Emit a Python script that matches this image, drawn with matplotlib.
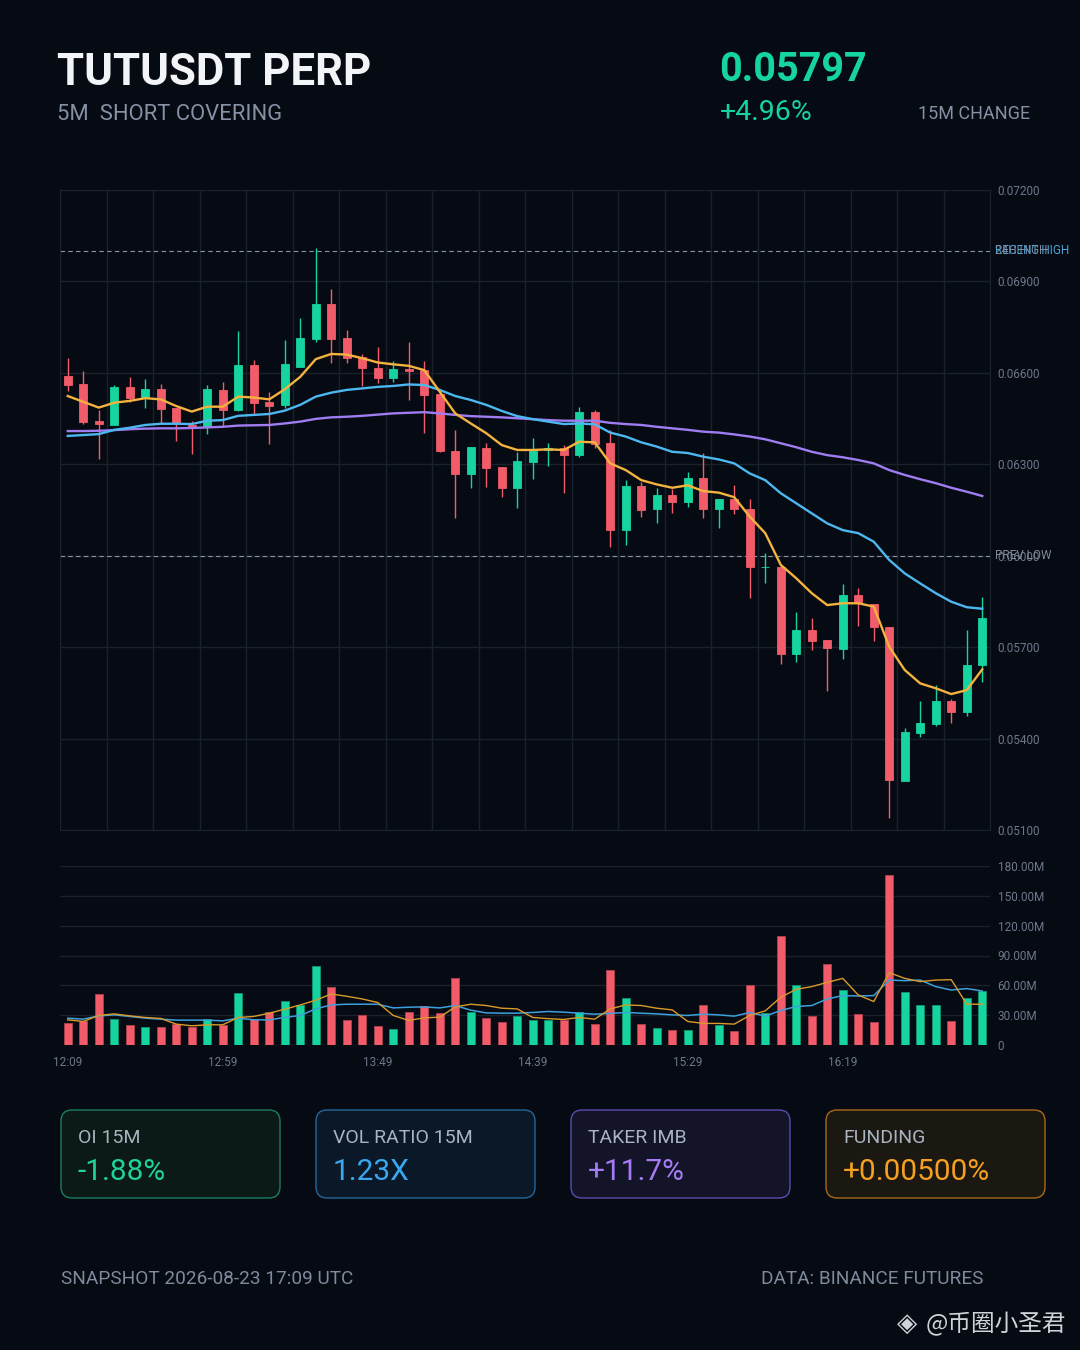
import numpy as np
import matplotlib.pyplot as plt
from matplotlib.patches import FancyBboxPatch

plt.rcParams['font.family'] = ['Roboto', 'Noto Sans CJK SC', 'DejaVu Sans']

# --- DATA (5m candles, 12:09 -> 17:04) ---
opens = [0.06590, 0.06563, 0.06441, 0.06430, 0.06553, 0.06521, 0.06547, 0.06484, 0.06429, 0.06423,
         0.06544, 0.06477, 0.06627, 0.06503, 0.06494, 0.06620, 0.06711, 0.06825, 0.06713, 0.06651,
         0.06617, 0.06584, 0.06614, 0.06608, 0.06531, 0.06343, 0.06268, 0.06353, 0.06290, 0.06221,
         0.06307, 0.06347, 0.06352, 0.06331, 0.06472, 0.06369, 0.06084, 0.06229, 0.06152, 0.06199,
         0.06177, 0.06254, 0.06154, 0.06186, 0.06152, 0.05962, 0.05964, 0.05679, 0.05755, 0.05722,
         0.05695, 0.05871, 0.05842, 0.05766, 0.05262, 0.05419, 0.05448, 0.05524, 0.05488, 0.05641]
highs = [0.06649, 0.06607, 0.06478, 0.06560, 0.06587, 0.06580, 0.06563, 0.06486, 0.06441, 0.06559,
         0.06570, 0.06736, 0.06642, 0.06538, 0.06709, 0.06780, 0.07010, 0.06874, 0.06741, 0.06662,
         0.06686, 0.06640, 0.06701, 0.06638, 0.06533, 0.06413, 0.06358, 0.06370, 0.06292, 0.06341,
         0.06386, 0.06369, 0.06362, 0.06487, 0.06478, 0.06413, 0.06248, 0.06242, 0.06221, 0.06218,
         0.06275, 0.06336, 0.06186, 0.06231, 0.06186, 0.06008, 0.05969, 0.05816, 0.05795, 0.05722,
         0.05907, 0.05893, 0.05842, 0.05766, 0.05434, 0.05524, 0.05576, 0.05529, 0.05756, 0.05866]
lows = [0.06540, 0.06433, 0.06316, 0.06428, 0.06505, 0.06485, 0.06434, 0.06377, 0.06333, 0.06399,
        0.06427, 0.06476, 0.06463, 0.06367, 0.06486, 0.06618, 0.06701, 0.06633, 0.06633, 0.06558,
        0.06566, 0.06569, 0.06511, 0.06404, 0.06340, 0.06125, 0.06221, 0.06226, 0.06194, 0.06158,
        0.06253, 0.06294, 0.06207, 0.06325, 0.06352, 0.06030, 0.06035, 0.06128, 0.06108, 0.06139,
        0.06161, 0.06125, 0.06090, 0.06137, 0.05860, 0.05911, 0.05644, 0.05652, 0.05691, 0.05556,
        0.05661, 0.05770, 0.05721, 0.05138, 0.05260, 0.05404, 0.05442, 0.05450, 0.05474, 0.05587]
closes = [0.06560, 0.06438, 0.06431, 0.06553, 0.06519, 0.06546, 0.06480, 0.06434, 0.06420, 0.06546,
          0.06478, 0.06626, 0.06502, 0.06492, 0.06628, 0.06714, 0.06825, 0.06711, 0.06648, 0.06615,
          0.06582, 0.06613, 0.06605, 0.06528, 0.06343, 0.06268, 0.06356, 0.06289, 0.06223, 0.06310,
          0.06345, 0.06353, 0.06330, 0.06472, 0.06367, 0.06084, 0.06229, 0.06150, 0.06199, 0.06177,
          0.06254, 0.06152, 0.06186, 0.06152, 0.05962, 0.05963, 0.05677, 0.05755, 0.05721, 0.05697,
          0.05871, 0.05844, 0.05765, 0.05264, 0.05423, 0.05450, 0.05523, 0.05488, 0.05641, 0.05797]

ma_fast = [0.06524, 0.06505, 0.06486, 0.06502, 0.06508, 0.06517, 0.06513, 0.06491, 0.06473, 0.06489,
           0.06489, 0.06522, 0.06519, 0.06513, 0.06546, 0.06587, 0.06645, 0.06662, 0.06660, 0.06648,
           0.06634, 0.06628, 0.06623, 0.06609, 0.06538, 0.06467, 0.06434, 0.06402, 0.06363, 0.06347,
           0.06347, 0.06349, 0.06347, 0.06374, 0.06372, 0.06303, 0.06281, 0.06248, 0.06234, 0.06223,
           0.06231, 0.06212, 0.06207, 0.06192, 0.06128, 0.06074, 0.05970, 0.05926, 0.05877, 0.05838,
           0.05844, 0.05844, 0.05833, 0.05701, 0.05625, 0.05581, 0.05565, 0.05546, 0.05559, 0.05627]
ma_mid = [0.06393, 0.06396, 0.06399, 0.06413, 0.06420, 0.06429, 0.06433, 0.06433, 0.06432, 0.06443,
          0.06445, 0.06459, 0.06462, 0.06465, 0.06476, 0.06495, 0.06522, 0.06535, 0.06544, 0.06549,
          0.06554, 0.06557, 0.06562, 0.06560, 0.06544, 0.06524, 0.06511, 0.06495, 0.06475, 0.06458,
          0.06448, 0.06440, 0.06432, 0.06434, 0.06431, 0.06404, 0.06391, 0.06372, 0.06358, 0.06341,
          0.06337, 0.06325, 0.06316, 0.06303, 0.06270, 0.06248, 0.06205, 0.06172, 0.06139, 0.06106,
          0.06084, 0.06074, 0.06046, 0.05986, 0.05942, 0.05909, 0.05877, 0.05849, 0.05831, 0.05826]
ma_slow = [0.06409, 0.06409, 0.06410, 0.06412, 0.06415, 0.06417, 0.06418, 0.06418, 0.06419, 0.06421,
           0.06423, 0.06427, 0.06428, 0.06429, 0.06434, 0.06440, 0.06449, 0.06454, 0.06456, 0.06459,
           0.06463, 0.06467, 0.06469, 0.06471, 0.06467, 0.06462, 0.06458, 0.06456, 0.06454, 0.06451,
           0.06448, 0.06445, 0.06443, 0.06443, 0.06443, 0.06436, 0.06432, 0.06429, 0.06423, 0.06418,
           0.06413, 0.06407, 0.06404, 0.06398, 0.06391, 0.06382, 0.06369, 0.06356, 0.06341, 0.06330,
           0.06323, 0.06314, 0.06303, 0.06281, 0.06265, 0.06251, 0.06238, 0.06223, 0.06210, 0.06196]

# volume in millions
volume = [22.3, 24.3, 51.0, 26.0, 20.0, 18.3, 18.0, 21.0, 18.0, 26.0,
          19.7, 52.3, 26.3, 33.3, 44.7, 40.3, 79.3, 58.3, 24.7, 29.7,
          19.0, 16.3, 33.3, 39.0, 32.3, 67.3, 32.7, 27.3, 23.3, 29.3,
          24.7, 25.0, 24.7, 33.3, 21.0, 75.3, 47.0, 21.0, 17.3, 14.7,
          15.0, 40.3, 20.3, 14.3, 60.3, 32.3, 110.0, 60.0, 29.0, 81.3,
          55.3, 31.0, 23.3, 171.3, 53.0, 40.0, 40.0, 24.3, 47.3, 54.3]
vol_ma_fast = [25.3, 23.7, 29.7, 31.3, 29.3, 27.7, 26.7, 21.0, 19.3, 20.3,
               20.3, 27.7, 28.7, 32.0, 36.0, 40.3, 45.0, 51.3, 49.0, 46.3,
               42.7, 29.7, 24.7, 27.3, 28.0, 38.3, 41.0, 39.7, 37.0, 36.3,
               27.7, 26.5, 25.7, 27.7, 26.0, 36.3, 40.3, 39.7, 37.0, 35.3,
               23.7, 21.7, 21.7, 21.0, 29.7, 34.3, 48.0, 56.0, 58.7, 63.0,
               67.0, 50.3, 43.7, 72.7, 67.0, 63.7, 65.3, 65.7, 41.0, 41.0]
vol_ma_slow = [27.0, 26.0, 29.3, 30.3, 28.7, 27.0, 26.0, 25.0, 25.0, 25.0,
               24.3, 27.0, 25.3, 25.3, 27.7, 29.7, 36.3, 40.3, 41.0, 41.0,
               41.0, 37.3, 38.0, 38.3, 37.3, 39.7, 35.0, 32.3, 32.0, 32.0,
               32.7, 33.7, 33.0, 32.0, 31.0, 31.7, 32.7, 32.0, 31.3, 30.3,
               29.7, 31.0, 30.3, 29.0, 32.7, 29.0, 34.7, 38.7, 39.7, 46.3,
               49.7, 49.3, 49.7, 65.3, 64.7, 65.3, 58.7, 55.3, 56.7, 54.3]

price_ticks = [0.051, 0.054, 0.057, 0.060, 0.063, 0.066, 0.069, 0.072]
vol_ticks = [0, 30, 60, 90, 120, 150, 180]
time_ticks = [0, 10, 20, 30, 40, 50]
time_labels = ['12:09', '12:59', '13:49', '14:39', '15:29', '16:19']

recent_high = 0.0700
prev_low = 0.0600

cards = [("OI 15M", "-1.88%"), ("VOL RATIO 15M", "1.23X"),
         ("TAKER IMB", "+11.7%"), ("FUNDING", "+0.00500%")]

# --- STYLE ---
BG = '#060a12'
GRID = '#19212d'
UP = '#16d49e'
DOWN = '#f25c6a'
TICK = '#6d788a'
SUB = '#8591a5'
W, H = 1080, 1350

fig = plt.figure(figsize=(10.8, 13.5), dpi=100, facecolor=BG)


def box(l, t, r, b):
    return [l / W, 1 - b / H, (r - l) / W, (b - t) / H]


x = np.arange(len(opens))
o = np.array(opens); c = np.array(closes)
up = c >= o
cols = np.where(up, UP, DOWN)

# price panel
ax = fig.add_axes(box(60, 190, 990, 830))
ax.set_facecolor(BG)
ax.set_xlim(-0.5, len(x) - 0.5)
ax.set_ylim(price_ticks[0], price_ticks[-1])
ax.set_xticks(np.arange(-0.5, len(x), 3))
ax.set_xticklabels([])
ax.set_yticks(price_ticks)
ax.set_yticklabels([f"{p:.5f}" for p in price_ticks])
ax.yaxis.tick_right()
ax.tick_params(length=0, colors=TICK, labelsize=8.5, pad=5.5)
ax.grid(True, color=GRID, lw=1)
ax.set_axisbelow(True)
for s in ax.spines.values():
    s.set_color(GRID)

ax.vlines(x, lows, highs, color=cols, lw=1, zorder=2)
ax.bar(x, c - o, bottom=o, width=0.5, color=cols, edgecolor=cols, lw=0.6, zorder=3)

ax.plot(x, ma_slow, color='#a07cf2', lw=1.7, zorder=4)
ax.plot(x, ma_mid, color='#4db8f0', lw=1.7, zorder=4)
ax.plot(x, ma_fast, color='#f4b23e', lw=1.7, zorder=4)

# level lines; their labels sit on top of each other as in the source
ax.axhline(recent_high, color='#8c95a3', lw=0.8, ls=(0, (4, 3)), zorder=1)
ax.axhline(prev_low, color='#8c95a3', lw=0.8, ls=(0, (4, 3)), zorder=1)
tr = ax.get_yaxis_transform()
ax.text(1.0054, recent_high, "RECENT HIGH", transform=tr, color='#4aa6d8', fontsize=8.5,
        va='center', ha='left', clip_on=False)
ax.text(1.0054, recent_high, "24H HIGH", transform=tr, color='#7f8a9c', fontsize=8.5,
        va='center', ha='left', clip_on=False)
ax.text(1.0054, prev_low, "PREV LOW", transform=tr, color='#7f8a9c', fontsize=8.5,
        va='center', ha='left', clip_on=False)

# volume panel
vax = fig.add_axes(box(60, 866, 990, 1045))
vax.set_facecolor(BG)
vax.set_xlim(-0.5, len(x) - 0.5)
vax.set_ylim(0, 180)
vax.bar(x, volume, width=0.52, color=cols, edgecolor=np.where(up, '#0f8f6c', '#a8404b'),
        lw=0.7, zorder=2)
vax.plot(x, vol_ma_slow, color='#3d9fdc', lw=1.1, zorder=3)
vax.plot(x, vol_ma_fast, color='#d99a2b', lw=1.0, zorder=3)
vax.set_yticks(vol_ticks)
vax.set_yticklabels(["0" if v == 0 else f"{v:.2f}M" for v in vol_ticks])
vax.yaxis.tick_right()
vax.set_xticks(time_ticks)
vax.set_xticklabels(time_labels)
vax.tick_params(length=0, colors=TICK, labelsize=8.5)
vax.tick_params(axis='y', pad=5.5)
vax.tick_params(axis='x', pad=8)
vax.grid(True, axis='y', color=GRID, lw=1)
vax.set_axisbelow(True)
for s in vax.spines.values():
    s.set_visible(False)

# overlay for header, cards, footer (pixel coords)
ov = fig.add_axes([0, 0, 1, 1], zorder=-1)
ov.set_xlim(0, W)
ov.set_ylim(H, 0)
ov.axis('off')

ov.text(57, 73, "TUTUSDT PERP", color='#f2f4f8', fontsize=31.5, fontweight='bold', va='center')
ov.text(57, 115, "5M  SHORT COVERING", color=SUB, fontsize=15.8, va='center')
ov.text(719, 70, "0.05797", color=UP, fontsize=28.5, fontweight='bold', va='center')
ov.text(720, 112, "+4.96%", color=UP, fontsize=20.5, va='center')
ov.text(1030, 114, "15M CHANGE", color=SUB, fontsize=13, va='center', ha='right')

card_style = [('#0b1a17', '#1b7d5f', '#1fd39a'), ('#0a1828', '#25679a', '#3aa8f0'),
              ('#141428', '#5d4bb0', '#a57cf5'), ('#1b1812', '#a8691c', '#f5a020')]
for i, ((label, val), (fc, ec, vc)) in enumerate(zip(cards, card_style)):
    left = 61 + i * 255
    ov.add_patch(FancyBboxPatch((left, 1110), 219, 88, boxstyle="round,pad=0,rounding_size=11",
                                fc=fc, ec=ec, lw=1))
    ov.text(left + 17, 1138, label, color='#a9b3c2', fontsize=14, va='center')
    ov.text(left + 17, 1172, val, color=vc, fontsize=21.5, va='center')

ov.text(61, 1279, "SNAPSHOT 2026-08-23 17:09 UTC", color='#7f8a9c', fontsize=13.7, va='center')
ov.text(983, 1279, "DATA: BINANCE FUTURES", color='#7f8a9c', fontsize=13.7, va='center', ha='right')

ov.text(907, 1324, "◈", color='#d0d4da', fontsize=19, va='center', ha='center',
        family=['DejaVu Sans'])
ov.text(926, 1324, "@币圈小圣君", color='#d0d4da', fontsize=17, va='center',
        family=['Noto Sans CJK SC', 'DejaVu Sans'])

fig.savefig('out.png', dpi=100, facecolor=BG)
